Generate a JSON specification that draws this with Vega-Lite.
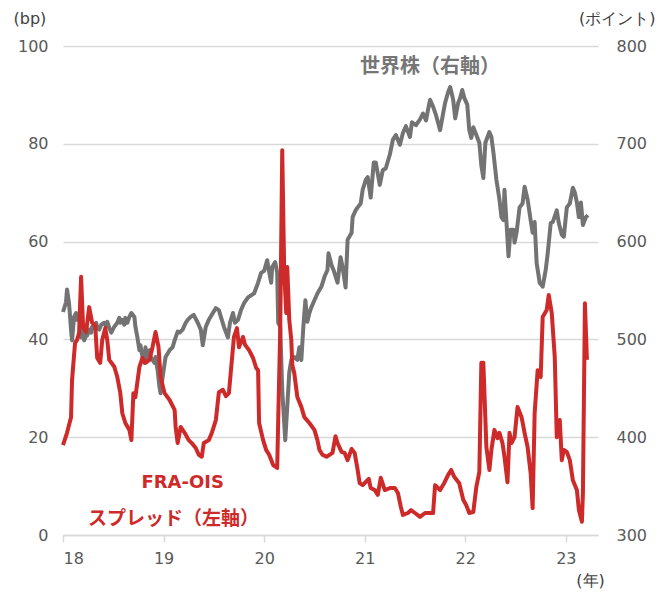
{
  "$schema": "https://vega.github.io/schema/vega-lite/v6.json",
  "width": 535,
  "height": 489,
  "autosize": {"type": "none"},
  "padding": {"left": 63, "top": 46, "right": 66, "bottom": 58},
  "background": "white",
  "config": {"view": {"stroke": null}, "font": "DejaVu Sans"},
  "datasets": {
    "fra": [
      {"t":18.00,"v":18.4},{"t":18.04,"v":20.9},{"t":18.08,"v":24.1},{"t":18.09,"v":31.7},{"t":18.12,"v":39.3},{"t":18.14,"v":39.9},{"t":18.16,"v":41.3},{"t":18.18,"v":52.8},{"t":18.20,"v":42.5},{"t":18.23,"v":41.5},{"t":18.26,"v":46.6},{"t":18.29,"v":43.4},{"t":18.32,"v":42.9},{"t":18.34,"v":36.2},{"t":18.37,"v":35.2},{"t":18.39,"v":39.9},{"t":18.42,"v":42.3},{"t":18.44,"v":39.9},{"t":18.46,"v":35.8},{"t":18.51,"v":34.4},{"t":18.54,"v":32.3},{"t":18.57,"v":29.0},{"t":18.59,"v":24.9},{"t":18.62,"v":22.9},{"t":18.66,"v":21.5},{"t":18.68,"v":19.4},{"t":18.70,"v":29.0},{"t":18.72,"v":28.2},{"t":18.76,"v":34.4},{"t":18.79,"v":36.2},{"t":18.82,"v":35.2},{"t":18.86,"v":35.8},{"t":18.89,"v":38.4},{"t":18.92,"v":41.5},{"t":18.95,"v":38.4},{"t":18.97,"v":32.3},{"t":19.01,"v":29.0},{"t":19.06,"v":27.6},{"t":19.11,"v":25.6},{"t":19.12,"v":22.1},{"t":19.14,"v":18.8},{"t":19.17,"v":22.1},{"t":19.21,"v":20.9},{"t":19.25,"v":19.4},{"t":19.28,"v":18.8},{"t":19.32,"v":17.8},{"t":19.35,"v":16.4},{"t":19.38,"v":16.0},{"t":19.40,"v":18.8},{"t":19.45,"v":19.4},{"t":19.48,"v":20.9},{"t":19.52,"v":23.5},{"t":19.55,"v":29.2},{"t":19.59,"v":29.7},{"t":19.62,"v":28.4},{"t":19.65,"v":29.0},{"t":19.67,"v":33.7},{"t":19.70,"v":40.5},{"t":19.73,"v":42.3},{"t":19.75,"v":38.4},{"t":19.79,"v":40.5},{"t":19.81,"v":38.9},{"t":19.85,"v":37.8},{"t":19.89,"v":36.2},{"t":19.92,"v":34.2},{"t":19.94,"v":33.7},{"t":19.95,"v":22.9},{"t":19.99,"v":19.4},{"t":20.02,"v":17.4},{"t":20.05,"v":16.4},{"t":20.09,"v":14.3},{"t":20.13,"v":13.7},{"t":20.14,"v":23.5},{"t":20.16,"v":41.9},{"t":20.18,"v":78.7},{"t":20.20,"v":53.6},{"t":20.22,"v":45.4},{"t":20.23,"v":54.8},{"t":20.25,"v":44.0},{"t":20.27,"v":39.9},{"t":20.28,"v":34.8},{"t":20.30,"v":33.1},{"t":20.33,"v":28.2},{"t":20.37,"v":26.2},{"t":20.40,"v":24.1},{"t":20.45,"v":22.9},{"t":20.50,"v":21.5},{"t":20.53,"v":19.4},{"t":20.55,"v":17.4},{"t":20.58,"v":16.4},{"t":20.62,"v":16.0},{"t":20.65,"v":16.4},{"t":20.68,"v":16.8},{"t":20.71,"v":20.2},{"t":20.73,"v":18.8},{"t":20.77,"v":17.0},{"t":20.80,"v":16.8},{"t":20.83,"v":15.3},{"t":20.87,"v":17.6},{"t":20.90,"v":16.8},{"t":20.93,"v":13.3},{"t":20.95,"v":10.6},{"t":20.98,"v":10.2},{"t":21.04,"v":11.5},{"t":21.06,"v":9.6},{"t":21.10,"v":9.2},{"t":21.13,"v":8.2},{"t":21.16,"v":11.7},{"t":21.20,"v":9.2},{"t":21.25,"v":9.6},{"t":21.30,"v":9.6},{"t":21.33,"v":8.6},{"t":21.36,"v":5.7},{"t":21.38,"v":4.1},{"t":21.43,"v":4.5},{"t":21.46,"v":5.1},{"t":21.50,"v":4.5},{"t":21.55,"v":3.7},{"t":21.60,"v":4.5},{"t":21.65,"v":4.5},{"t":21.68,"v":4.5},{"t":21.70,"v":10.2},{"t":21.75,"v":9.2},{"t":21.79,"v":10.6},{"t":21.83,"v":12.3},{"t":21.86,"v":13.3},{"t":21.89,"v":11.9},{"t":21.94,"v":10.6},{"t":21.98,"v":7.2},{"t":22.01,"v":6.1},{"t":22.04,"v":4.5},{"t":22.08,"v":4.7},{"t":22.11,"v":9.8},{"t":22.14,"v":12.9},{"t":22.16,"v":35.2},{"t":22.18,"v":35.2},{"t":22.21,"v":18.0},{"t":22.24,"v":13.3},{"t":22.26,"v":17.4},{"t":22.29,"v":21.5},{"t":22.32,"v":19.8},{"t":22.34,"v":20.9},{"t":22.37,"v":18.8},{"t":22.39,"v":16.0},{"t":22.42,"v":10.8},{"t":22.44,"v":20.9},{"t":22.46,"v":18.8},{"t":22.49,"v":20.0},{"t":22.52,"v":26.2},{"t":22.56,"v":24.1},{"t":22.59,"v":20.9},{"t":22.62,"v":18.0},{"t":22.65,"v":12.7},{"t":22.67,"v":5.5},{"t":22.69,"v":24.9},{"t":22.72,"v":33.7},{"t":22.75,"v":32.3},{"t":22.77,"v":44.6},{"t":22.81,"v":46.0},{"t":22.83,"v":49.1},{"t":22.86,"v":45.4},{"t":22.89,"v":36.4},{"t":22.91,"v":20.0},{"t":22.94,"v":23.5},{"t":22.96,"v":15.3},{"t":22.98,"v":17.4},{"t":23.01,"v":17.0},{"t":23.04,"v":15.3},{"t":23.07,"v":11.2},{"t":23.11,"v":9.2},{"t":23.13,"v":5.1},{"t":23.16,"v":2.7},{"t":23.17,"v":8.6},{"t":23.19,"v":47.4},{"t":23.21,"v":35.8}
    ],
    "stock": [
      {"t":18.00,"v":528},{"t":18.03,"v":538},{"t":18.04,"v":551},{"t":18.06,"v":537},{"t":18.08,"v":510},{"t":18.09,"v":499},{"t":18.11,"v":523},{"t":18.13,"v":527},{"t":18.14,"v":520},{"t":18.16,"v":525},{"t":18.18,"v":502},{"t":18.19,"v":517},{"t":18.21,"v":499},{"t":18.23,"v":504},{"t":18.24,"v":504},{"t":18.26,"v":510},{"t":18.28,"v":507},{"t":18.29,"v":513},{"t":18.31,"v":512},{"t":18.33,"v":517},{"t":18.34,"v":512},{"t":18.36,"v":510},{"t":18.38,"v":515},{"t":18.41,"v":517},{"t":18.43,"v":513},{"t":18.44,"v":518},{"t":18.46,"v":512},{"t":18.48,"v":507},{"t":18.51,"v":513},{"t":18.54,"v":517},{"t":18.56,"v":522},{"t":18.57,"v":517},{"t":18.59,"v":520},{"t":18.61,"v":515},{"t":18.62,"v":522},{"t":18.64,"v":517},{"t":18.66,"v":523},{"t":18.68,"v":527},{"t":18.71,"v":523},{"t":18.72,"v":513},{"t":18.74,"v":502},{"t":18.76,"v":489},{"t":18.77,"v":494},{"t":18.79,"v":482},{"t":18.81,"v":476},{"t":18.82,"v":492},{"t":18.84,"v":479},{"t":18.86,"v":489},{"t":18.87,"v":482},{"t":18.91,"v":476},{"t":18.92,"v":482},{"t":18.94,"v":469},{"t":18.96,"v":451},{"t":18.97,"v":445},{"t":18.99,"v":461},{"t":19.02,"v":482},{"t":19.06,"v":489},{"t":19.09,"v":492},{"t":19.11,"v":499},{"t":19.14,"v":508},{"t":19.16,"v":507},{"t":19.19,"v":510},{"t":19.22,"v":517},{"t":19.24,"v":520},{"t":19.27,"v":523},{"t":19.30,"v":525},{"t":19.34,"v":517},{"t":19.37,"v":510},{"t":19.39,"v":494},{"t":19.42,"v":513},{"t":19.45,"v":520},{"t":19.49,"v":527},{"t":19.52,"v":532},{"t":19.55,"v":530},{"t":19.57,"v":523},{"t":19.60,"v":513},{"t":19.64,"v":502},{"t":19.66,"v":517},{"t":19.69,"v":527},{"t":19.71,"v":517},{"t":19.74,"v":520},{"t":19.77,"v":530},{"t":19.80,"v":537},{"t":19.84,"v":543},{"t":19.87,"v":545},{"t":19.90,"v":547},{"t":19.94,"v":558},{"t":19.97,"v":568},{"t":20.00,"v":570},{"t":20.03,"v":581},{"t":20.05,"v":569},{"t":20.07,"v":558},{"t":20.08,"v":574},{"t":20.11,"v":579},{"t":20.13,"v":568},{"t":20.14,"v":517},{"t":20.16,"v":513},{"t":20.18,"v":448},{"t":20.21,"v":397},{"t":20.23,"v":431},{"t":20.25,"v":466},{"t":20.27,"v":479},{"t":20.30,"v":482},{"t":20.33,"v":479},{"t":20.35,"v":492},{"t":20.37,"v":479},{"t":20.39,"v":513},{"t":20.41,"v":540},{"t":20.43,"v":518},{"t":20.45,"v":527},{"t":20.47,"v":533},{"t":20.50,"v":540},{"t":20.53,"v":547},{"t":20.57,"v":554},{"t":20.60,"v":564},{"t":20.63,"v":571},{"t":20.64,"v":588},{"t":20.67,"v":576},{"t":20.69,"v":571},{"t":20.73,"v":558},{"t":20.76,"v":584},{"t":20.78,"v":574},{"t":20.81,"v":553},{"t":20.83,"v":602},{"t":20.87,"v":609},{"t":20.88,"v":625},{"t":20.91,"v":632},{"t":20.93,"v":635},{"t":20.96,"v":639},{"t":20.98,"v":653},{"t":21.01,"v":663},{"t":21.03,"v":666},{"t":21.06,"v":645},{"t":21.09,"v":681},{"t":21.11,"v":681},{"t":21.15,"v":658},{"t":21.18,"v":673},{"t":21.21,"v":675},{"t":21.25,"v":689},{"t":21.28,"v":704},{"t":21.31,"v":709},{"t":21.35,"v":699},{"t":21.38,"v":711},{"t":21.41,"v":718},{"t":21.45,"v":707},{"t":21.47,"v":722},{"t":21.51,"v":719},{"t":21.55,"v":725},{"t":21.58,"v":731},{"t":21.61,"v":724},{"t":21.63,"v":735},{"t":21.65,"v":745},{"t":21.68,"v":738},{"t":21.71,"v":729},{"t":21.75,"v":714},{"t":21.78,"v":731},{"t":21.80,"v":742},{"t":21.83,"v":753},{"t":21.85,"v":758},{"t":21.88,"v":745},{"t":21.90,"v":726},{"t":21.93,"v":742},{"t":21.95,"v":747},{"t":21.97,"v":755},{"t":21.99,"v":747},{"t":22.02,"v":740},{"t":22.04,"v":714},{"t":22.06,"v":706},{"t":22.08,"v":717},{"t":22.11,"v":709},{"t":22.14,"v":701},{"t":22.16,"v":678},{"t":22.18,"v":665},{"t":22.20,"v":701},{"t":22.24,"v":712},{"t":22.26,"v":707},{"t":22.28,"v":691},{"t":22.31,"v":663},{"t":22.34,"v":643},{"t":22.36,"v":625},{"t":22.38,"v":622},{"t":22.39,"v":653},{"t":22.41,"v":620},{"t":22.43,"v":585},{"t":22.45,"v":612},{"t":22.48,"v":612},{"t":22.49,"v":599},{"t":22.51,"v":609},{"t":22.54,"v":635},{"t":22.57,"v":639},{"t":22.59,"v":656},{"t":22.62,"v":643},{"t":22.65,"v":622},{"t":22.67,"v":609},{"t":22.69,"v":620},{"t":22.71,"v":578},{"t":22.74,"v":558},{"t":22.77,"v":554},{"t":22.80,"v":571},{"t":22.82,"v":588},{"t":22.85,"v":619},{"t":22.87,"v":620},{"t":22.91,"v":632},{"t":22.93,"v":619},{"t":22.96,"v":607},{"t":22.98,"v":605},{"t":23.01,"v":635},{"t":23.04,"v":639},{"t":23.07,"v":655},{"t":23.09,"v":650},{"t":23.11,"v":640},{"t":23.13,"v":625},{"t":23.15,"v":640},{"t":23.17,"v":617},{"t":23.20,"v":625},{"t":23.22,"v":627}
    ]
  },
  "layer": [
    {
      "layer": [
        {
          "data": {"name": "stock"},
          "mark": {"type": "line", "color": "#737373", "strokeWidth": 4, "strokeJoin": "round"},
          "encoding": {
            "x": {"field": "t", "type": "quantitative", "title": "(年)",
              "scale": {"domain": [18, 23.32], "nice": false, "zero": false},
              "axis": {"values": [18, 19, 20, 21, 22, 23], "format": "d", "grid": false, "domainColor": "#d9d9d9", "domainWidth": 1.5, "tickColor": "#d9d9d9", "tickWidth": 1.5, "tickSize": 7, "labelFontSize": 16, "labelColor": "#595959", "labelPadding": 8, "titleFontSize": 16, "titleFontWeight": "normal", "titleColor": "#404040", "titleX": 527, "titleY": 45, "titleAlign": "center", "titleBaseline": "middle"}},
            "y": {"field": "v", "type": "quantitative", "title": "(ポイント)",
              "scale": {"domain": [300, 800], "nice": false, "zero": false},
              "axis": {"orient": "right", "values": [300, 400, 500, 600, 700, 800], "grid": false, "domain": false, "ticks": false, "labelFontSize": 16, "labelColor": "#595959", "labelPadding": 18, "titleAngle": 0, "titleX": 57, "titleY": -28, "titleAlign": "right", "titleBaseline": "middle", "titleFontSize": 16, "titleFontWeight": "normal", "titleColor": "#404040"}}
          }
        },
        {
          "data": {"values": [{"t": 21.65, "v": 779, "label": "世界株（右軸）"}]},
          "mark": {"type": "text", "font": "Noto Sans CJK JP", "fontWeight": "bold", "fontSize": 20, "color": "#767676", "align": "center", "baseline": "middle"},
          "encoding": {
            "x": {"field": "t", "type": "quantitative"},
            "y": {"field": "v", "type": "quantitative"},
            "text": {"field": "label"}
          }
        }
      ]
    },
    {
      "layer": [
        {
          "data": {"name": "fra"},
          "mark": {"type": "line", "color": "#cf2a2a", "strokeWidth": 4, "strokeJoin": "round"},
          "encoding": {
            "x": {"field": "t", "type": "quantitative"},
            "y": {"field": "v", "type": "quantitative", "title": "(bp)",
              "scale": {"domain": [0, 100], "nice": false, "zero": false},
              "axis": {"orient": "left", "values": [0, 20, 40, 60, 80, 100], "grid": true, "gridColor": "#d9d9d9", "gridWidth": 1.5, "domain": false, "ticks": false, "labelFontSize": 16, "labelColor": "#595959", "labelPadding": 15, "titleAngle": 0, "titleX": -50, "titleY": -28, "titleAlign": "left", "titleBaseline": "middle", "titleFontSize": 16, "titleFontWeight": "normal", "titleColor": "#404040"}}
          }
        },
        {
          "data": {"values": [{"t": 19.19, "v": 10.6, "label": "FRA-OIS"}]},
          "mark": {"type": "text", "font": "DejaVu Sans", "fontWeight": "bold", "fontSize": 18, "color": "#cf2a2a", "align": "center", "baseline": "middle"},
          "encoding": {
            "x": {"field": "t", "type": "quantitative"},
            "y": {"field": "v", "type": "quantitative"},
            "text": {"field": "label"}
          }
        },
        {
          "data": {"values": [{"t": 19.10, "v": 3.3, "label": "スプレッド（左軸）"}]},
          "mark": {"type": "text", "font": "Noto Sans CJK JP", "fontWeight": "bold", "fontSize": 19, "color": "#cf2a2a", "align": "center", "baseline": "middle"},
          "encoding": {
            "x": {"field": "t", "type": "quantitative"},
            "y": {"field": "v", "type": "quantitative"},
            "text": {"field": "label"}
          }
        }
      ]
    }
  ],
  "resolve": {"scale": {"y": "independent"}}
}
